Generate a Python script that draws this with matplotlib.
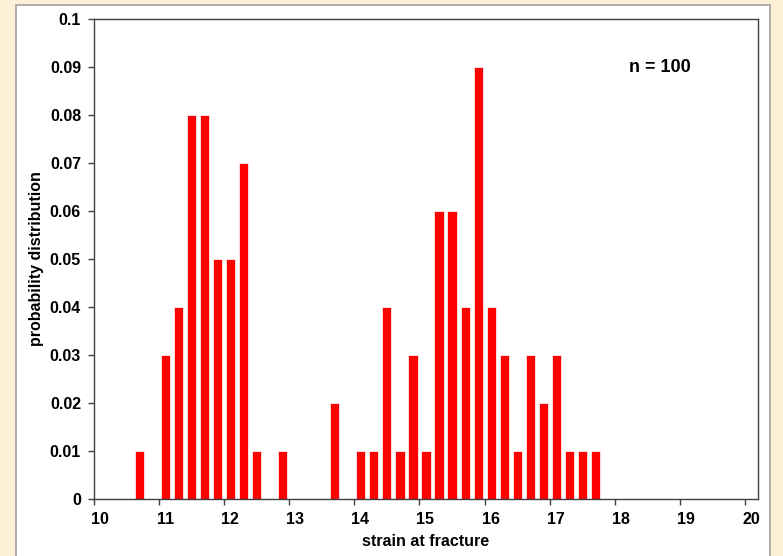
import matplotlib.pyplot as plt
from matplotlib.patches import Rectangle
from matplotlib.transforms import ScaledTranslation

# strain bins (bar centres) and probability per bin
strain = [10.7, 11.1, 11.3, 11.5, 11.7, 11.9, 12.1, 12.3, 12.5, 12.9,
          13.7, 14.1, 14.3, 14.5, 14.7, 14.9, 15.1, 15.3, 15.5, 15.7,
          15.9, 16.1, 16.3, 16.5, 16.7, 16.9, 17.1, 17.3, 17.5, 17.7]
prob = [0.01, 0.03, 0.04, 0.08, 0.08, 0.05, 0.05, 0.07, 0.01, 0.01,
        0.02, 0.01, 0.01, 0.04, 0.01, 0.03, 0.01, 0.06, 0.06, 0.04,
        0.09, 0.04, 0.03, 0.01, 0.03, 0.02, 0.03, 0.01, 0.01, 0.01]

xticks = list(range(10, 21))
yticks = [0, 0.01, 0.02, 0.03, 0.04, 0.05, 0.06, 0.07, 0.08, 0.09, 0.1]
ytick_labels = ['0', '0.01', '0.02', '0.03', '0.04', '0.05', '0.06',
                '0.07', '0.08', '0.09', '0.1']

plt.rcParams['font.family'] = ['Liberation Sans', 'DejaVu Sans']
plt.rcParams['font.weight'] = 'bold'

fig = plt.figure(figsize=(7.83, 5.56), dpi=100)
fig.patch.set_facecolor('#fcf0d6')
# white slide panel behind the chart
panel = Rectangle((16 / 783, -0.01), (770 - 16) / 783, 1 - 5 / 556 + 0.01,
                  transform=fig.transFigure, facecolor='white',
                  edgecolor='#a0a0a0', linewidth=1.2, zorder=-1)
fig.add_artist(panel)

ax = fig.add_axes([94 / 783, 1 - 499 / 556, (758 - 94) / 783, (499 - 19) / 556])
ax.set_facecolor('white')
ax.bar(strain, prob, width=0.14, color='#ff0000', edgecolor='white', linewidth=0.5)

ax.set_xlim(10, 20.2)
ax.set_ylim(0, 0.1)
ax.set_xticks(xticks)
ax.set_yticks(yticks)
ax.set_yticklabels(ytick_labels)
ax.tick_params(direction='out', length=4.3, width=1, labelsize=11.5, color='#404040')
ax.tick_params(axis='x', pad=5)
ax.tick_params(axis='y', pad=5)
# x tick labels sit a little right of their ticks
shift = ScaledTranslation(6 / 100, 0, fig.dpi_scale_trans)
for lbl in ax.get_xticklabels():
    lbl.set_transform(lbl.get_transform() + shift)
for s in ax.spines.values():
    s.set_color('#404040')
    s.set_linewidth(1)

ax.set_xlabel('strain at fracture', fontsize=11.5, fontweight='bold', labelpad=5)
ax.set_ylabel('probability distribution', fontsize=11.5, fontweight='bold', labelpad=4.5)
ax.text(18.7, 0.09, 'n = 100', fontsize=13, fontweight='bold', ha='center', va='center')

fig.savefig('out.png', dpi=100, facecolor=fig.get_facecolor())
